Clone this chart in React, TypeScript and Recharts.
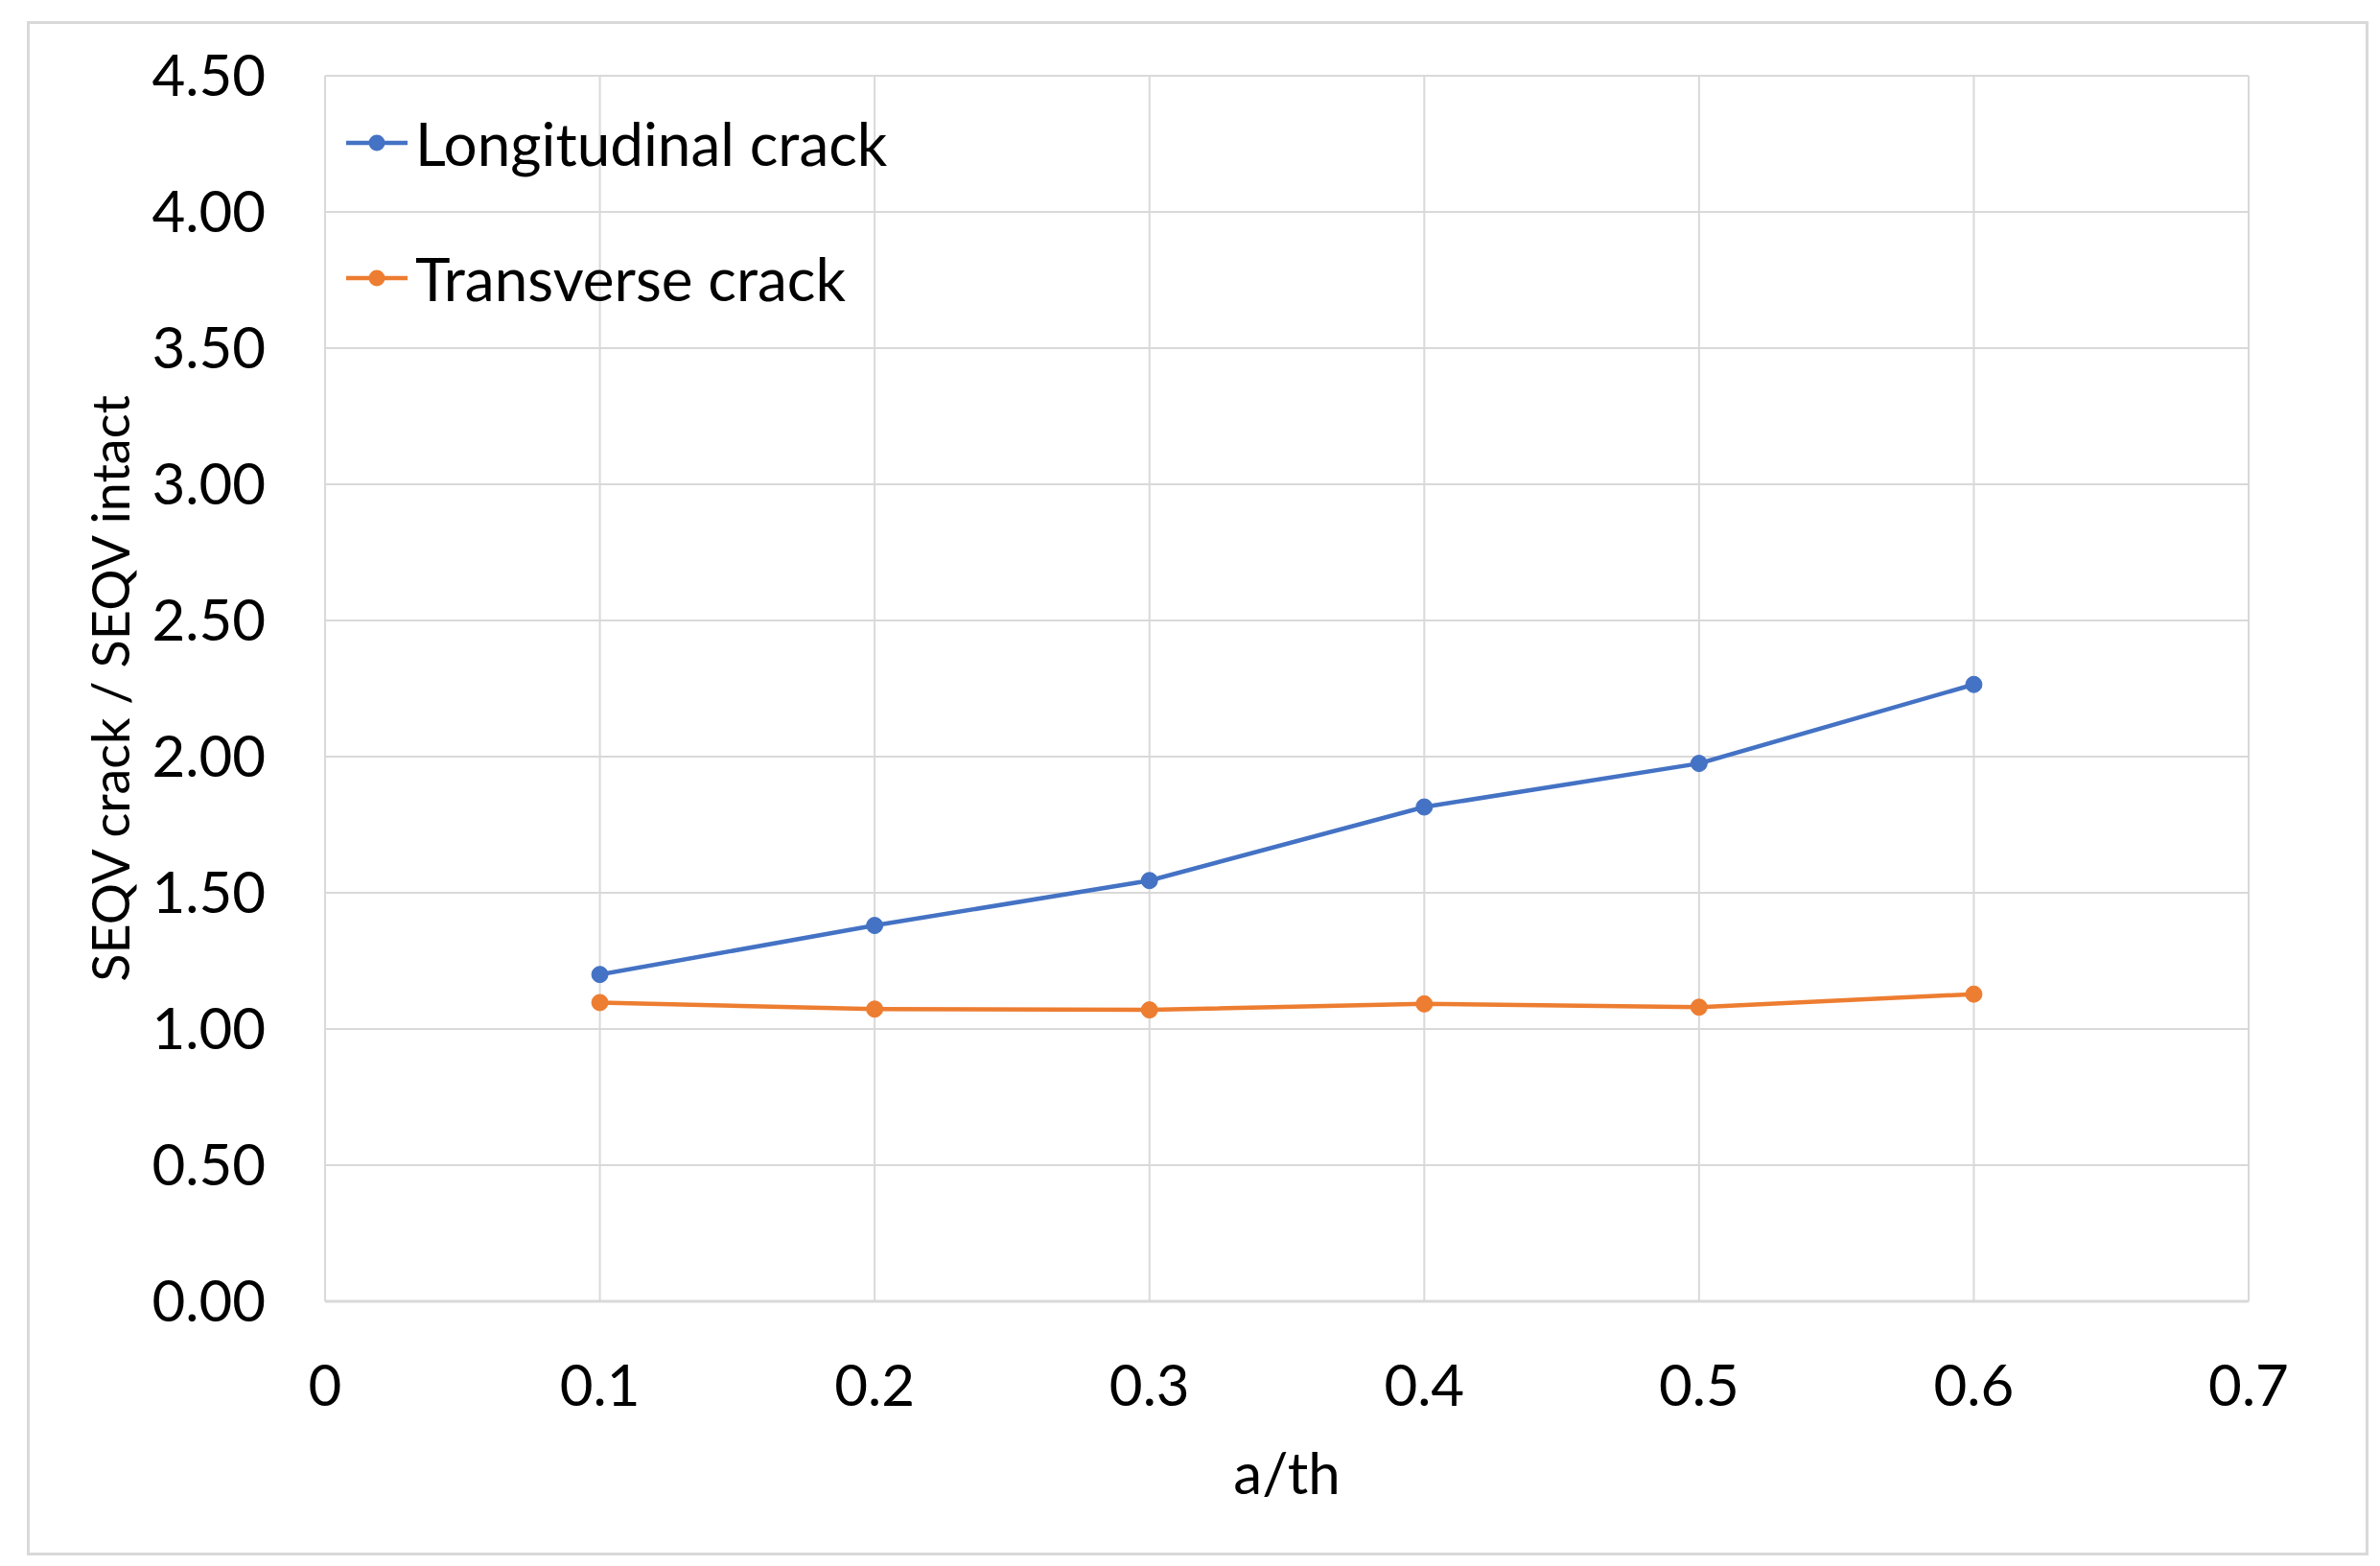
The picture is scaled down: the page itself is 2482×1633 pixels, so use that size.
import React from "react";
import {
  CartesianGrid,
  Label,
  Legend,
  Line,
  LineChart,
  XAxis,
  YAxis,
} from "recharts";

// a/th values
const ratios = [0.1, 0.2, 0.3, 0.4, 0.5, 0.6];
const longitudinal = [1.2, 1.38, 1.545, 1.815, 1.975, 2.265];
const transverse = [1.097, 1.073, 1.07, 1.092, 1.08, 1.128];

const xTicks = [0, 0.1, 0.2, 0.3, 0.4, 0.5, 0.6, 0.7];
const yTicks = [0, 0.5, 1, 1.5, 2, 2.5, 3, 3.5, 4, 4.5];

const BLUE = "#4472C4";
const ORANGE = "#ED7D31";
const GRID = "#d9d9d9";
const FONT = "Lato, 'Open Sans', sans-serif";

const data = ratios.map((r, i) => ({
  x: r,
  longitudinal: longitudinal[i],
  transverse: transverse[i],
}));

const legendItems = [
  { name: "Longitudinal crack", color: BLUE },
  { name: "Transverse crack", color: ORANGE },
];

function LegendBox() {
  return (
    <div style={{ fontFamily: FONT, fontSize: 62, color: "#000" }}>
      {legendItems.map((item) => (
        <div
          key={item.name}
          style={{ display: "flex", alignItems: "center", height: 141 }}
        >
          <svg width={66} height={24} style={{ marginRight: 6 }}>
            <line x1={0} y1={12} x2={64} y2={12} stroke={item.color} strokeWidth={4.5} />
            <circle cx={32} cy={12} r={8.5} fill={item.color} />
          </svg>
          <span style={{ whiteSpace: "nowrap" }}>{item.name}</span>
        </div>
      ))}
    </div>
  );
}

export default function App() {
  const tickStyle = { fontFamily: FONT, fontSize: 60, fill: "#000" };
  return (
    <div style={{ position: "absolute", left: 0, top: 0, width: 2482, height: 1633, background: "#fff" }}>
      <div
        style={{
          position: "absolute",
          left: 28,
          top: 22,
          width: 2436,
          height: 1594,
          border: `3px solid ${GRID}`,
        }}
      />
      <div style={{ position: "absolute", left: 0, top: 0 }}>
        <LineChart
          width={2482}
          height={1633}
          data={data}
          margin={{ top: 79, right: 137, left: 0, bottom: 0 }}
        >
          <CartesianGrid stroke={GRID} strokeWidth={2} />
          <XAxis
            dataKey="x"
            type="number"
            domain={[0, 0.7]}
            ticks={xTicks}
            tickFormatter={(v: number) => (v === 0 ? "0" : v.toFixed(1))}
            tick={tickStyle}
            tickLine={false}
            tickSize={0}
            tickMargin={66}
            axisLine={{ stroke: GRID, strokeWidth: 3 }}
            height={276}
          >
            <Label
              value="a/th"
              position="insideBottom"
              offset={75}
              style={{ fontFamily: FONT, fontSize: 60, fill: "#000" }}
            />
          </XAxis>
          <YAxis
            type="number"
            domain={[0, 4.5]}
            ticks={yTicks}
            tickFormatter={(v: number) => v.toFixed(2)}
            tick={tickStyle}
            tickLine={false}
            tickSize={0}
            tickMargin={62}
            axisLine={{ stroke: GRID, strokeWidth: 2 }}
            width={339}
          >
            <Label
              content={({ viewBox }: any) => {
                const cy = viewBox.y + viewBox.height / 2;
                return (
                  <text
                    x={114}
                    y={cy}
                    transform={`rotate(-90 114 ${cy})`}
                    textAnchor="middle"
                    dominantBaseline="central"
                    style={{ fontFamily: FONT, fontSize: 54, fill: "#000" }}
                  >
                    SEQV crack / SEQV intact
                  </text>
                );
              }}
            />
          </YAxis>
          <Legend
            layout="vertical"
            align="center"
            verticalAlign="middle"
            content={() => <LegendBox />}
            wrapperStyle={{ left: 361, top: 78, width: "auto" }}
          />
          <Line
            dataKey="longitudinal"
            stroke={BLUE}
            strokeWidth={4.5}
            dot={{ r: 8.5, fill: BLUE, stroke: BLUE, strokeWidth: 1 }}
            isAnimationActive={false}
          />
          <Line
            dataKey="transverse"
            stroke={ORANGE}
            strokeWidth={4.5}
            dot={{ r: 8.5, fill: ORANGE, stroke: ORANGE, strokeWidth: 1 }}
            isAnimationActive={false}
          />
        </LineChart>
      </div>
    </div>
  );
}
